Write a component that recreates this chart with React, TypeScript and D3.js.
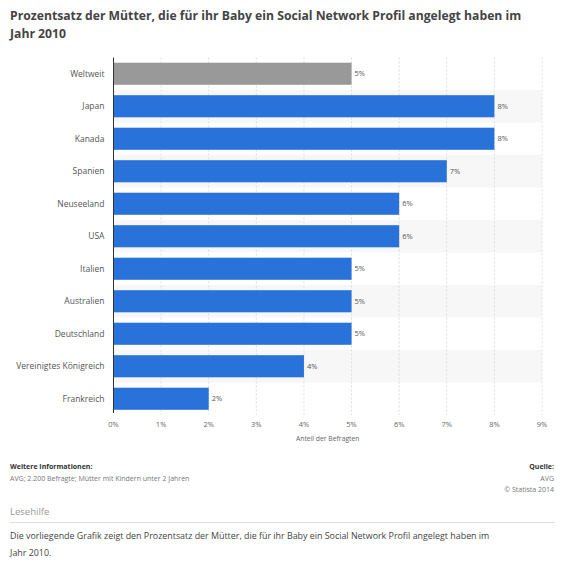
import React, { useEffect, useRef } from "react";
import * as d3 from "d3";

const categories = ["Weltweit", "Japan", "Kanada", "Spanien", "Neuseeland", "USA", "Italien", "Australien", "Deutschland", "Vereinigtes Königreich", "Frankreich"];
const values = [5, 8, 8, 7, 6, 6, 5, 5, 5, 4, 2];
const xTicks = [0, 1, 2, 3, 4, 5, 6, 7, 8, 9];
const titleLines = ["Prozentsatz der Mütter, die für ihr Baby ein Social Network Profil angelegt haben im", "Jahr 2010"];
const infoLines = ["Weitere Informationen:", "AVG; 2.200 Befragte; Mütter mit Kindern unter 2 Jahren"];
const sourceLines = ["Quelle:", "AVG", "© Statista 2014"];
const descLines = ["Die vorliegende Grafik zeigt den Prozentsatz der Mütter, die für ihr Baby ein Social Network Profil angelegt haben im", "Jahr 2010."];

const W = 565, H = 565;
const FONT = "'Open Sans', 'DejaVu Sans', sans-serif";

export default function App() {
  const ref = useRef<SVGSVGElement>(null);
  useEffect(() => {
    document.body.style.margin = "0";
    const svg = d3.select(ref.current);
    svg.selectAll("*").remove();
    const left = 113.5, right = 542, top = 57.5, bottom = 415;
    const x = d3.scaleLinear().domain([0, 9]).range([left, right]);
    const y = d3.scaleBand().domain(categories).range([top, bottom]).paddingInner(0.32).paddingOuter(0.16);
    const yRow = d3.scaleBand().domain(categories).range([top, bottom]);

    svg.append("rect").attr("width", W).attr("height", H).attr("fill", "#ffffff");

    // title
    svg.append("g").selectAll("text").data(titleLines).join("text")
      .attr("x", 10).attr("y", (_, i) => 20 + i * 18)
      .attr("font-family", FONT).attr("font-weight", "bold").attr("font-size", 12.2)
      .attr("fill", "#444").text(d => d);

    // alternating row shading
    svg.append("g").selectAll("rect").data(categories.filter((_, i) => i % 2 === 1)).join("rect")
      .attr("x", left).attr("width", right - left)
      .attr("y", d => yRow(d)!).attr("height", yRow.bandwidth())
      .attr("fill", "#f7f7f7");

    // grid
    svg.append("g").selectAll("line").data(xTicks.slice(1)).join("line")
      .attr("x1", d => x(d)).attr("x2", d => x(d)).attr("y1", top).attr("y2", bottom)
      .attr("stroke", "#dddddd").attr("stroke-dasharray", "2,2").attr("stroke-width", 1);

    // bars
    svg.append("g").selectAll("rect").data(categories).join("rect")
      .attr("x", x(0)).attr("y", d => y(d)!)
      .attr("width", (_, i) => x(values[i]) - x(0)).attr("height", y.bandwidth())
      .attr("fill", (_, i) => (i === 0 ? "#999999" : "#2872d9"));

    // value labels
    svg.append("g").selectAll("text").data(categories).join("text")
      .attr("x", (_, i) => x(values[i]) + 3).attr("y", d => y(d)! + y.bandwidth() / 2)
      .attr("dy", "0.35em").attr("font-family", FONT).attr("font-size", 7.5).attr("fill", "#555")
      .text((_, i) => values[i] + "%");

    // category labels
    svg.append("g").selectAll("text").data(categories).join("text")
      .attr("x", left - 9).attr("y", d => y(d)! + y.bandwidth() / 2)
      .attr("dy", "0.35em").attr("text-anchor", "end").attr("font-family", FONT).attr("font-size", 8.5).attr("fill", "#555")
      .text(d => d);

    // axis line
    svg.append("line").attr("x1", x(0)).attr("x2", x(0)).attr("y1", top).attr("y2", bottom - 2)
      .attr("stroke", "#333").attr("stroke-width", 1);

    // x tick labels
    svg.append("g").selectAll("text").data(xTicks).join("text")
      .attr("x", d => x(d)).attr("y", 427).attr("text-anchor", "middle")
      .attr("font-family", FONT).attr("font-size", 7.5).attr("fill", "#666")
      .text(d => d + "%");

    svg.append("text").attr("x", (left + right) / 2).attr("y", 441).attr("text-anchor", "middle")
      .attr("font-family", FONT).attr("font-size", 6.8).attr("fill", "#666").text("Anteil der Befragten");

    // footer
    svg.append("g").selectAll("text").data(infoLines).join("text")
      .attr("x", 10).attr("y", (_, i) => 469 + i * 11.5)
      .attr("font-family", FONT).attr("font-size", 7).attr("font-weight", (_, i) => (i === 0 ? "bold" : "normal"))
      .attr("fill", (_, i) => (i === 0 ? "#333" : "#777")).text(d => d);

    svg.append("g").selectAll("text").data(sourceLines).join("text")
      .attr("x", 554).attr("y", (_, i) => 469 + i * 11.5).attr("text-anchor", "end")
      .attr("font-family", FONT).attr("font-size", 7).attr("font-weight", (_, i) => (i === 0 ? "bold" : "normal"))
      .attr("fill", (_, i) => (i === 0 ? "#333" : "#777")).text(d => d);

    svg.append("text").attr("x", 10).attr("y", 515)
      .attr("font-family", FONT).attr("font-size", 9.5).attr("fill", "#999").text("Lesehilfe");
    svg.append("line").attr("x1", 10).attr("x2", 555).attr("y1", 522.5).attr("y2", 522.5)
      .attr("stroke", "#dddddd").attr("stroke-width", 1);

    svg.append("g").selectAll("text").data(descLines).join("text")
      .attr("x", 10).attr("y", (_, i) => 539 + i * 17)
      .attr("font-family", FONT).attr("font-size", 8.9).attr("fill", "#444").text(d => d);
  }, []);
  return <svg ref={ref} width={W} height={H} style={{ display: "block" }} />;
}
